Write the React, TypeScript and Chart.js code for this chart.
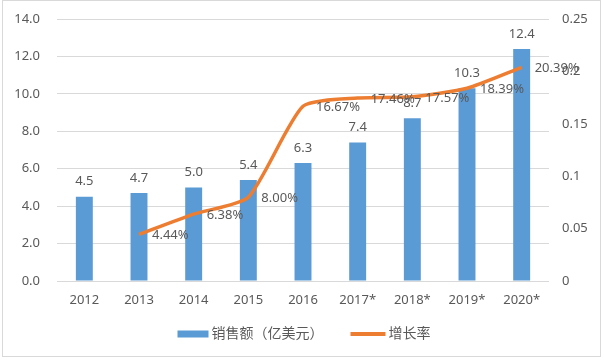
import React, { useEffect, useRef } from "react";
import { Chart, registerables } from "chart.js";

Chart.register(...registerables);

const categories = ["2012", "2013", "2014", "2015", "2016", "2017*", "2018*", "2019*", "2020*"];
const salesValues = [4.5, 4.7, 5.0, 5.4, 6.3, 7.4, 8.7, 10.3, 12.4];
const salesLabels = ["4.5", "4.7", "5.0", "5.4", "6.3", "7.4", "8.7", "10.3", "12.4"];
const growthRates = [null, 0.0444, 0.0638, 0.08, 0.1667, 0.1746, 0.1757, 0.1839, 0.2039];
const growthLabels = ["", "4.44%", "6.38%", "8.00%", "16.67%", "17.46%", "17.57%", "18.39%", "20.39%"];
const legendNames = ["销售额（亿美元）", "增长率"];

const BAR_COLOR = "#5B9BD5";
const LINE_COLOR = "#ED7D31";
const TEXT_COLOR = "#595959";
const GRID_COLOR = "#D9D9D9";
const FONT = '"Noto Sans", "Noto Sans CJK SC", sans-serif';

const framePlugin = {
  id: "frame",
  beforeDraw(chart: any) {
    const ctx = chart.ctx;
    ctx.save();
    ctx.fillStyle = "#ffffff";
    ctx.fillRect(0, 0, chart.width, chart.height);
    ctx.strokeStyle = GRID_COLOR;
    ctx.lineWidth = 1;
    ctx.strokeRect(2.5, 0.5, chart.width - 6, chart.height - 5);
    ctx.restore();
  },
};

const labelsPlugin = {
  id: "valueLabels",
  afterDatasetsDraw(chart: any) {
    const ctx = chart.ctx;
    ctx.save();
    ctx.font = `13px ${FONT}`;
    ctx.fillStyle = TEXT_COLOR;
    const barMeta = chart.getDatasetMeta(0);
    ctx.textAlign = "center";
    ctx.textBaseline = "middle";
    barMeta.data.forEach((el: any, i: number) => {
      ctx.fillText(salesLabels[i], el.x, el.y - 15);
    });
    const lineMeta = chart.getDatasetMeta(1);
    ctx.textAlign = "left";
    lineMeta.data.forEach((el: any, i: number) => {
      if (growthRates[i] == null) return;
      ctx.fillText(growthLabels[i], el.x + 13, el.y + 1);
    });
    ctx.restore();
  },
};

const legendPlugin = {
  id: "customLegend",
  afterDraw(chart: any) {
    const ctx = chart.ctx;
    ctx.save();
    ctx.font = `14px ${FONT}`;
    const w1 = ctx.measureText(legendNames[0]).width;
    const w2 = ctx.measureText(legendNames[1]).width;
    const sw1 = 31;
    const sw2 = 35;
    const gap = 3;
    const between = 27;
    const total = sw1 + gap + w1 + between + sw2 + gap + w2;
    let x = chart.width / 2 + 2 - total / 2;
    const y = 334;
    ctx.fillStyle = BAR_COLOR;
    ctx.fillRect(x, y - 3.5, sw1, 7);
    x += sw1 + gap;
    ctx.fillStyle = TEXT_COLOR;
    ctx.textAlign = "left";
    ctx.textBaseline = "middle";
    ctx.fillText(legendNames[0], x, y);
    x += w1 + between;
    ctx.strokeStyle = LINE_COLOR;
    ctx.lineWidth = 4;
    ctx.beginPath();
    ctx.moveTo(x, y);
    ctx.lineTo(x + sw2, y);
    ctx.stroke();
    x += sw2 + gap;
    ctx.fillText(legendNames[1], x, y);
    ctx.restore();
  },
};

export default function App() {
  const canvasRef = useRef<HTMLCanvasElement | null>(null);

  useEffect(() => {
    document.body.style.margin = "0";
    const canvas = canvasRef.current;
    if (!canvas) return;
    Chart.defaults.font.family = FONT;
    const chart = new Chart(canvas, {
      type: "bar",
      data: {
        labels: categories,
        datasets: [
          {
            type: "bar",
            label: legendNames[0],
            data: salesValues,
            backgroundColor: BAR_COLOR,
            yAxisID: "y",
            categoryPercentage: 1,
            barPercentage: 0.31,
            order: 2,
          },
          {
            type: "line",
            label: legendNames[1],
            data: growthRates as any,
            borderColor: LINE_COLOR,
            backgroundColor: LINE_COLOR,
            borderWidth: 3.5,
            pointRadius: 0,
            tension: 0.2,
            yAxisID: "y1",
            order: 1,
          },
        ],
      },
      options: {
        responsive: false,
        animation: false,
        layout: { padding: { top: 19, left: 0, right: 0, bottom: 50 } },
        plugins: {
          legend: { display: false },
          tooltip: { enabled: false },
        },
        scales: {
          x: {
            grid: { display: false, drawTicks: false },
            border: { display: false },
            ticks: { color: TEXT_COLOR, font: { size: 13 }, padding: 11 },
            afterFit: (s: any) => {
              s.height = 30;
            },
          },
          y: {
            position: "left",
            min: 0,
            max: 14,
            ticks: {
              stepSize: 2,
              color: TEXT_COLOR,
              font: { size: 13 },
              padding: 17,
              callback: (v: any) => Number(v).toFixed(1),
            },
            grid: { color: GRID_COLOR, lineWidth: 1, drawTicks: false },
            border: { display: false },
            afterFit: (s: any) => {
              s.width = 57;
              s.paddingTop = 8;
              s.paddingBottom = 8;
            },
          },
          y1: {
            position: "right",
            min: 0,
            max: 0.25,
            ticks: {
              stepSize: 0.05,
              color: TEXT_COLOR,
              font: { size: 13 },
              padding: 13,
              callback: (v: any) => String(Math.round(Number(v) * 100) / 100),
            },
            grid: { display: false, drawTicks: false },
            border: { display: false },
            afterFit: (s: any) => {
              s.width = 55;
              s.paddingTop = 8;
              s.paddingBottom = 8;
            },
          },
        },
      },
      plugins: [framePlugin, labelsPlugin, legendPlugin],
    });
    return () => chart.destroy();
  }, []);

  return (
    <div style={{ width: 604, height: 361 }}>
      <canvas ref={canvasRef} width={604} height={361} />
    </div>
  );
}
